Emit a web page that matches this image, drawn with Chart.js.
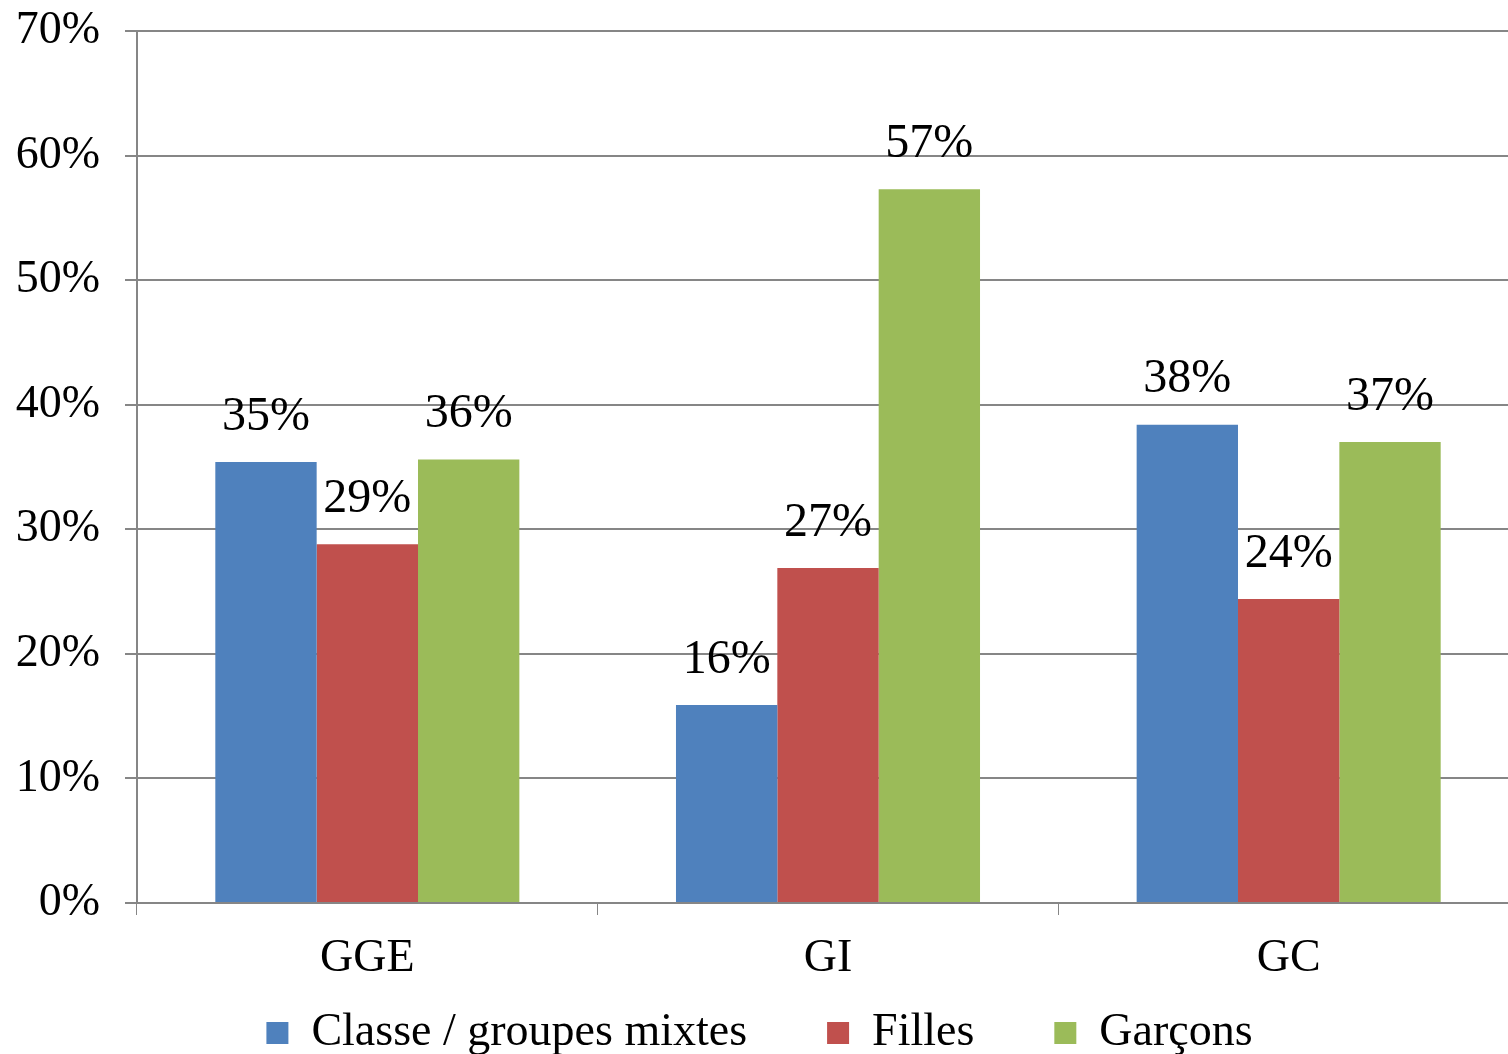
<!DOCTYPE html>
<html>
<head>
<meta charset="utf-8">
<script src="https://cdn.jsdelivr.net/npm/chart.js@4/dist/chart.umd.min.js"></script>
<style>
  html, body { margin: 0; padding: 0; background: #fff; overflow: hidden; }
  #wrap { position: relative; width: 1530px; height: 1054px; }
</style>
</head>
<body>
<div id="wrap"><canvas id="c"></canvas></div>
<script>
// Categories and series values (percent)
const categories = ['GGE', 'GI', 'GC'];
const seriesNames = ['Classe / groupes mixtes', 'Filles', 'Garçons'];
const mixtesValues = [35.4, 15.9, 38.4];
const fillesValues = [28.8, 26.9, 24.4];
const garconsValues = [35.6, 57.3, 37.0];
const yTicks = [0, 10, 20, 30, 40, 50, 60, 70];

const colors = ['#4F81BD', '#C0504D', '#9BBB59'];
const serif = "'Liberation Serif', 'Times New Roman', serif";

// Value labels drawn above each bar
const valueLabels = {
  id: 'valueLabels',
  afterDatasetsDraw(chart) {
    const ctx = chart.ctx;
    ctx.save();
    ctx.font = '48px ' + serif;
    ctx.fillStyle = '#000';
    ctx.textAlign = 'center';
    ctx.textBaseline = 'middle';
    chart.data.datasets.forEach((ds, i) => {
      chart.getDatasetMeta(i).data.forEach((bar, j) => {
        ctx.fillText(Math.round(ds.data[j]) + '%', bar.x, bar.y - 45);
      });
    });
    ctx.restore();
  }
};

// Wide horizontal spacing between legend entries, with the row kept close under the axis labels
const legendRow = {
  id: 'legendRow',
  afterLayout(chart) {
    if (chart.legend) chart.legend.top = chart.chartArea.bottom + 27;
  }
};

new Chart(document.getElementById('c'), {
  type: 'bar',
  data: {
    labels: categories,
    datasets: [
      { label: seriesNames[0], data: mixtesValues, backgroundColor: colors[0] },
      { label: seriesNames[1], data: fillesValues, backgroundColor: colors[1] },
      { label: seriesNames[2], data: garconsValues, backgroundColor: colors[2] }
    ]
  },
  options: {
    responsive: true,
    maintainAspectRatio: false,
    animation: false,
    events: [],
    layout: { padding: { top: 31, right: 11, left: 0, bottom: 0 } },
    datasets: { bar: { categoryPercentage: 0.66, barPercentage: 1.0 } },
    plugins: {
      legend: {
        position: 'bottom',
        maxHeight: 70,
        labels: {
          font: { family: serif, size: 46 },
          color: '#000',
          boxWidth: 22,
          boxHeight: 22,
          padding: 80
        }
      },
      tooltip: { enabled: false }
    },
    scales: {
      x: {
        grid: { drawOnChartArea: false, drawTicks: true, tickLength: 12, color: '#868686', offset: true },
        border: { color: '#868686', width: 2 },
        ticks: { font: { family: serif, size: 46 }, color: '#000', padding: 16 },
        afterFit(scale) { scale.height = 81; }
      },
      y: {
        min: 0,
        max: 70,
        afterBuildTicks(scale) { scale.ticks = yTicks.map(v => ({ value: v })); },
        grid: { color: '#868686', lineWidth: 2, tickLength: 12 },
        border: { color: '#868686', width: 2 },
        ticks: {
          font: { family: serif, size: 46 },
          color: '#000',
          padding: 25,
          callback: v => v + '%'
        },
        afterFit(scale) {
          scale.width = 137;
          scale.paddingTop = 20;
          scale.paddingBottom = 20;
        }
      }
    }
  },
  plugins: [valueLabels, legendRow]
});
</script>
</body>
</html>
